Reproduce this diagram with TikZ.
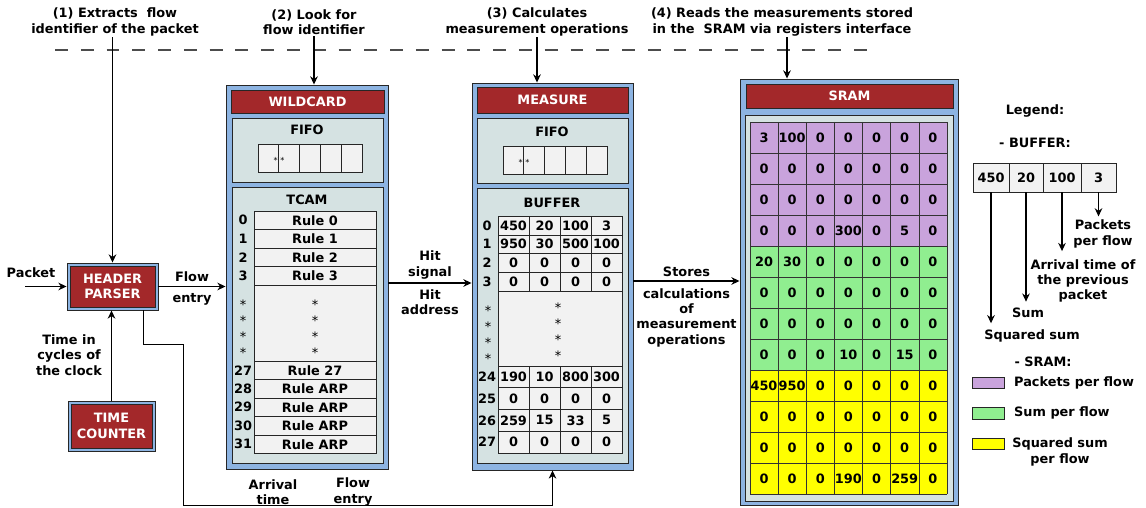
\documentclass[tikz,border=0pt]{standalone}
\usepackage{fontspec}
\setmainfont{DejaVu Sans}
\usepackage{xcolor}
\usetikzlibrary{positioning, arrows.meta, fit}
\definecolor{hdrred}{HTML}{A3282A}
\definecolor{frameblue}{HTML}{8DB4E2}
\definecolor{panelgray}{HTML}{D5E2E2}
\definecolor{cellgray}{HTML}{F2F2F2}
\definecolor{sramviolet}{HTML}{C9A3DC}
\definecolor{sramgreen}{HTML}{90EE90}
\definecolor{sramyellow}{HTML}{FFFF00}
\tikzset{
    pipeline/.style={
        x=0.03cm, y=-0.03cm,
        font=\fontsize{11}{13}\selectfont\bfseries,
        >={Stealth[length=7pt, width=6.5pt]},
        outerbox/.style={draw=black!85, fill=frameblue, line width=0.8pt, inner sep=0pt},
        titlebar/.style={draw=black!85, fill=hdrred, line width=0.8pt, inner sep=0pt},
        titletext/.style={text=white, align=center, inner sep=0pt},
        panelbox/.style={draw=black!85, fill=panelgray, line width=0.8pt, inner sep=0pt},
        cellbox/.style={draw=black!85, fill=cellgray, line width=0.6pt},
        gridline/.style={draw=black!80, line width=0.5pt},
        txt/.style={align=center, inner sep=1pt},
        stars/.style={font=\fontsize{7}{8}\selectfont\mdseries},
        bigstar/.style={font=\fontsize{11}{11}\selectfont\mdseries},
        arrow/.style={line width=1pt, ->},
        sep/.style={line width=1.2pt, black!70, dash pattern=on 11pt off 11pt},
        swatch/.style={draw=black!85, line width=0.8pt}
    }
}

\begin{document}
\begin{tikzpicture}[pipeline]
    \useasboundingbox (0,0) rectangle (1146,508);

    % Steps on top
    \node[txt] (lbl1) at (115,22) {(1) Extracts\ \ flow\\identifier of the packet};
    \node[txt] (lbl2) at (314,22) {(2) Look for\\flow identifier};
    \node[txt] (lbl3) at (537,22) {(3) Calculates\\measurement operations};
    \node[txt] (lbl4) at (782,22) {(4) Reads the measurements stored\\in the\ \ SRAM via registers interface};
    \draw[sep] (55,50) -- (868,50);

    % Header parser and time counter
    \node[outerbox, fit={(67,263) (158,310)}] (parser) {};
    \node[titlebar, fit={(70,266) (155,307)}] (parserbar) {};
    \node[titletext] (parsertxt) at (parserbar.center) {HEADER\\PARSER};
    \node[outerbox, fit={(68,401) (155,451)}] (timer) {};
    \node[titlebar, fit={(71,404) (152,448)}] (timerbar) {};
    \node[titletext] (timertxt) at (timerbar.center) {TIME\\COUNTER};

    \coordinate (pktin) at (25,286.5);
    \node (pktlbl) at (31,273) {Packet};
    \node[txt] (clocklbl) at (69,355) {Time in\\cycles of\\the clock};

    % Wildcard
    \node[outerbox, fit={(226,85) (388,469)}] (wild) {};
    \node[titlebar, fit={(231,90) (384,113)}] (wildbar) {};
    \node[titletext] (wildtitle) at (wildbar.center) {WILDCARD};
    \node[panelbox, fit={(232,118) (383,182)}] (wildfifo) {};
    \node (wildfifolbl) at (307,130) {FIFO};
    \foreach \i in {0,...,4}
        \draw[cellbox] (258+20.8*\i,144) rectangle ++(20.8,28);
    \node[stars] (wildstars) at (279,160) {* *};
    \node[panelbox, fit={(232,187) (383,463)}] (tcam) {};
    \node (tcamlbl) at (307,200) {TCAM};
    \foreach \idx/\ytop/\rtxt in {0/211/Rule 0, 1/229.5/Rule 1, 2/248/Rule 2, 3/266.5/Rule 3,
            27/361/Rule 27, 28/379.5/Rule ARP, 29/398/Rule ARP, 30/416.5/Rule ARP, 31/435/Rule ARP} {
        \draw[cellbox] (254,\ytop) rectangle ++(122,18.5);
        \node (rule-\idx) at (315,\ytop+9.25) {\rtxt};
        \node (ridx-\idx) at (243,\ytop+9.25) {\idx};
    }
    \draw[cellbox] (254,285) rectangle (376,361);
    \foreach \k in {0,...,3} {
        \node[bigstar] (tdot-\k) at (243,305+16*\k) {*};
        \node[bigstar] (tdotc-\k) at (315,305+16*\k) {*};
    }

    % Measure
    \node[outerbox, fit={(472,83) (633,470)}] (meas) {};
    \node[titlebar, fit={(477,87) (628,113)}] (measbar) {};
    \node[titletext] (meastitle) at (measbar.center) {MEASURE};
    \node[panelbox, fit={(477,118) (628,183)}] (measfifo) {};
    \node (measfifolbl) at (552,132) {FIFO};
    \foreach \i in {0,...,4}
        \draw[cellbox] (503+20.8*\i,146) rectangle ++(20.8,28);
    \node[stars] (measstars) at (524,162) {* *};
    \node[panelbox, fit={(477,188) (628,463)}] (buffer) {};
    \node (bufferlbl) at (552,203) {BUFFER};
    \foreach \idx/\ytop/\h/\va/\vb/\vc/\vd in {0/216/19/450/20/100/3, 1/235/18.5/950/30/500/100,
            2/253.5/18.5/0/0/0/0, 3/272/19/0/0/0/0, 24/366/21.75/190/10/800/300,
            25/387.75/21.75/0/0/0/0, 26/409.5/21.75/259/15/33/5, 27/431.25/21.75/0/0/0/0} {
        \node (bidx-\idx) at (487,\ytop+\h/2) {\idx};
        \foreach \c in {0,...,3}
            \draw[cellbox] (498+31*\c,\ytop) rectangle ++(31,\h);
        \node[inner sep=0pt] (b-\idx-0) at (513.5,\ytop+\h/2) {\va};
        \node[inner sep=0pt] (b-\idx-1) at (544.5,\ytop+\h/2) {\vb};
        \node[inner sep=0pt] (b-\idx-2) at (575.5,\ytop+\h/2) {\vc};
        \node[inner sep=0pt] (b-\idx-3) at (606.5,\ytop+\h/2) {\vd};
    }
    \draw[cellbox] (498,291) rectangle (622,366);
    \foreach \k in {0,...,3} {
        \node[bigstar] (bdot-\k) at (488,311+16*\k) {*};
        \node[bigstar] (bdotc-\k) at (558,308+16*\k) {*};
    }

    % SRAM
    \node[outerbox, fit={(740,79) (958,505)}] (sram) {};
    \node[titlebar, fit={(746,84) (953,108)}] (srambar) {};
    \node[titletext] (sramtitle) at (srambar.center) {SRAM};
    \node[panelbox, fit={(745,115) (953,501)}] (sramin) {};
    \fill[sramviolet] (750,122) rectangle (947,246);
    \fill[sramgreen] (750,246) rectangle (947,370);
    \fill[sramyellow] (750,370) rectangle (947,494);
    \foreach \i in {0,...,7}
        \draw[gridline] (750+28.143*\i,122) -- (750+28.143*\i,494);
    \foreach \j in {0,...,12}
        \draw[gridline] (750,122+31*\j) -- (947,122+31*\j);
    \foreach \r/\va/\vb/\vc/\vd/\ve/\vf/\vg in {0/3/100/0/0/0/0/0, 1/0/0/0/0/0/0/0, 2/0/0/0/0/0/0/0,
            3/0/0/0/300/0/5/0, 4/20/30/0/0/0/0/0, 5/0/0/0/0/0/0/0, 6/0/0/0/0/0/0/0,
            7/0/0/0/10/0/15/0, 8/450/950/0/0/0/0/0, 9/0/0/0/0/0/0/0, 10/0/0/0/0/0/0/0,
            11/0/0/0/190/0/259/0} {
        \foreach \v [count=\c from 0] in {\va,\vb,\vc,\vd,\ve,\vf,\vg}
            \node[inner sep=0pt] (s-\r-\c) at (764+28.143*\c,137.5+31*\r) {\v};
    }

    % Connections
    \coordinate (hitlvl) at (0,283);
    \coordinate (storelvl) at (0,281);
    \draw[arrow] (parser.north |- lbl1.south) -- (parser.north);
    \draw[arrow] (lbl2.south) -- (lbl2.south |- wild.north);
    \draw[arrow] (lbl3.south) -- (lbl3.south |- meas.north);
    \draw[arrow] ([xshift=0.15cm]lbl4.south) -- ([xshift=0.15cm]lbl4.south |- sram.north);
    \draw[arrow] (pktin) -- (parser.west);
    \draw[arrow] (timer.north) -- (timer.north |- parser.south);
    \draw[arrow] (parser.east) -- (parser.east -| wild.west)
        node[midway, above] (flowlbl) {Flow}
        node[midway, below=2pt] (entrylbl) {entry};
    \draw[arrow] (wild.east |- hitlvl) -- (meas.west |- hitlvl)
        node[midway, above=2pt, txt] (hitsig) {Hit\\signal}
        node[midway, below=4pt, txt] (hitaddr) {Hit\\address};
    \draw[arrow] (meas.east |- storelvl) -- (sram.west |- storelvl)
        node[midway, above] (stores) {Stores}
        node[midway, below=5pt, txt] (storesnote) {calculations\\of\\measurement\\operations};
    \draw[line width=0.8pt, ->] ([xshift=-0.45cm]parser.south east) |- (183,344) -- (183,505) -| (meas.south);
    \node[txt] (arrlbl) at (273,492) {Arrival\\time};
    \node[txt] (entrylbl2) at (353,492) {Flow\\entry};

    % Legend
    \node (legend) at (1035,111) {Legend:};
    \node (legbuf) at (1035,143) {- BUFFER:};
    \foreach \c/\xl/\w/\v in {0/973/36/450, 1/1009/34/20, 2/1043/38/100, 3/1081/35/3} {
        \draw[cellbox] (\xl,163) rectangle ++(\w,29);
        \node (lb-\c) at (\xl+\w/2,177.5) {\v};
    }
    \coordinate (legbot) at (0,192);
    \node[txt] (legpkt) at (1103,234) {Packets\\per flow};
    \node[txt] (legarr) at (1083,281) {Arrival time of\\the previous\\packet};
    \node (legsum) at (1028,313) {Sum};
    \node (legsq) at (1032,336) {Squared sum};
    \draw[arrow, shorten >=2pt] (lb-0 |- legbot) -- (lb-0 |- legsq.north);
    \draw[arrow, shorten >=2pt] (lb-1 |- legbot) -- (lb-1 |- legsum.north);
    \draw[arrow, shorten >=6pt] (lb-2 |- legbot) -- (lb-2 |- legarr.north);
    \draw[arrow, shorten >=2pt] (lb-3 |- legbot) -- (lb-3 |- legpkt.north);

    \node (legsram) at (1043,362) {- SRAM:};
    \draw[swatch, fill=sramviolet] (972,377) rectangle (1004,388);
    \draw[swatch, fill=sramgreen] (972,407) rectangle (1004,419);
    \draw[swatch, fill=sramyellow] (972,438) rectangle (1004,449);
    \node[anchor=west] (legviolet) at (1010,383) {Packets per flow};
    \node[anchor=west] (leggreen) at (1010,413) {Sum per flow};
    \node[txt] (legyellow) at (1060,452) {Squared sum\\per flow};
\end{tikzpicture}
\end{document}
